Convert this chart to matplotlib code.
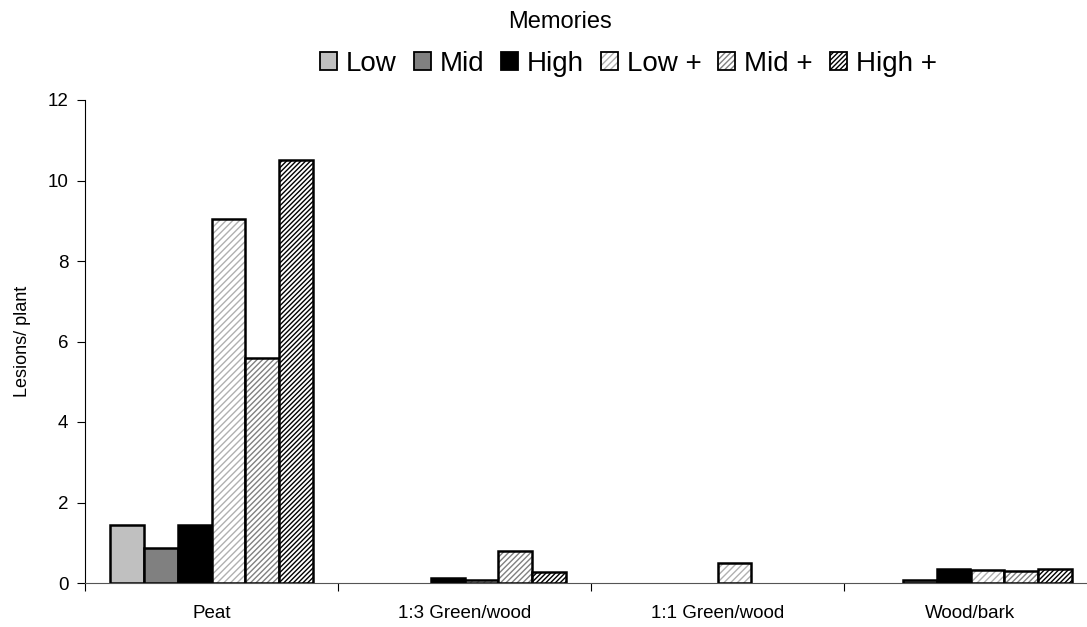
import matplotlib
matplotlib.use('Agg')
import matplotlib.pyplot as plt
import numpy as np
from matplotlib.patches import Patch

plt.rcParams['font.family'] = ['Liberation Sans', 'DejaVu Sans']
plt.rcParams['hatch.linewidth'] = 1.0

# data
categories = ['Peat', '1:3 Green/wood', '1:1 Green/wood', 'Wood/bark']
series = ['Low', 'Mid', 'High', 'Low +', 'Mid +', 'High +']
low = [1.45, 0.0, 0.0, 0.0]
mid = [0.88, 0.0, 0.0, 0.08]
high = [1.45, 0.13, 0.0, 0.35]
low_plus = [9.05, 0.08, 0.5, 0.32]
mid_plus = [5.6, 0.8, 0.0, 0.3]
high_plus = [10.5, 0.28, 0.0, 0.36]
values = [low, mid, high, low_plus, mid_plus, high_plus]

# styles: (facecolor, hatch, hatch colour)
styles = [('#c0c0c0', None, None),
          ('#808080', None, None),
          ('#000000', None, None),
          ('white', '/////', '#b0b0b0'),
          ('white', '//////', '#808080'),
          ('white', '///////', '#000000')]

fig = plt.figure(figsize=(10.87, 6.27), dpi=100)
ax = fig.add_axes([85 / 1087, 44 / 627, 1012 / 1087, 483 / 627])

x = np.arange(len(categories))
width = 0.134
handles = []
for i, (vals, (fc, hatch, hc)) in enumerate(zip(values, styles)):
    pos = x + (i - 2.5) * width
    # no outline for empty bars, the axis line shows there
    lw = [1.8 if v > 0 else 0 for v in vals]
    if hatch:
        ax.bar(pos, vals, width, color=fc, hatch=hatch, edgecolor=hc, linewidth=0)
        ax.bar(pos, vals, width, fill=False, edgecolor='black', linewidth=lw)
        h = (Patch(facecolor=fc, hatch=hatch, edgecolor=hc, linewidth=0),
             Patch(fill=False, edgecolor='black', linewidth=1.3))
    else:
        ax.bar(pos, vals, width, color=fc, edgecolor='black', linewidth=lw)
        h = Patch(facecolor=fc, edgecolor='black', linewidth=1.3)
    handles.append(h)

ax.set_xlim(-0.5, len(categories) - 0.5)
ax.set_ylim(0, 12)
ax.set_yticks(range(0, 13, 2))
ax.set_xticks(x)
ax.set_xticklabels(categories, fontsize=13.5)
ax.set_xticks(np.arange(-0.5, len(categories), 1), minor=True)
ax.tick_params(axis='x', which='major', length=0, pad=16)
ax.tick_params(axis='x', which='minor', length=6, direction='out', width=0.8)
ax.tick_params(axis='y', labelsize=13.5, length=6, direction='out', width=0.8, pad=6)
for side in ['top', 'right']:
    ax.spines[side].set_visible(False)
ax.spines['left'].set_linewidth(0.8)
ax.spines['bottom'].set_linewidth(0.8)
ax.spines['bottom'].set_color('#555555')
ax.set_ylabel('Lesions/ plant', fontsize=13, labelpad=12)

fig.text(560 / 1087, 1 - 22 / 627, 'Memories', ha='center', va='center', fontsize=17)
fig.legend(handles, series, loc='center left', bbox_to_anchor=(320 / 1087, 1 - 64 / 627),
           ncol=6, frameon=False, fontsize=20, borderpad=0, borderaxespad=0,
           handlelength=0.62, handleheight=0.62, handletextpad=0.32, columnspacing=0.6)

fig.savefig('out.png', dpi=100)
